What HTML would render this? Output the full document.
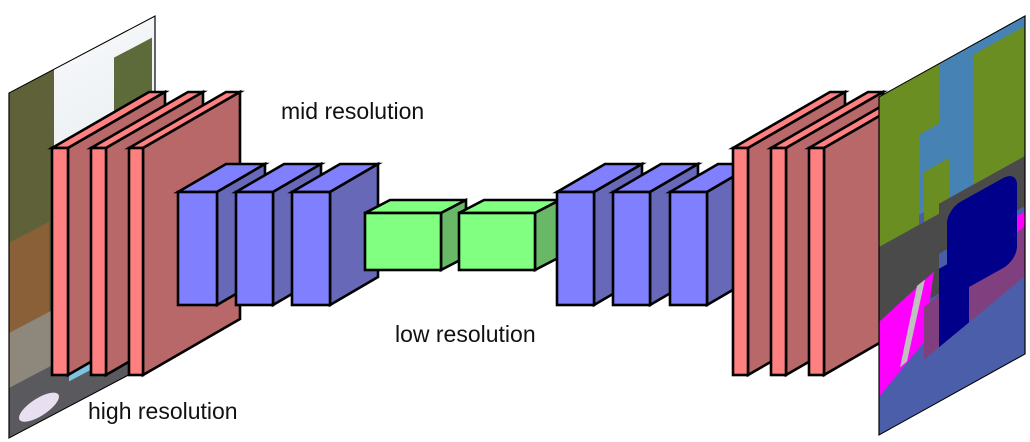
<!DOCTYPE html>
<html><head><meta charset="utf-8"><style>
html,body{margin:0;padding:0;background:#fff;}
svg{display:block;}
text{font-family:"Liberation Sans",Arial,sans-serif;font-size:23px;fill:#111;}
</style></head><body>
<svg width="1030" height="442" viewBox="0 0 1030 442" xmlns="http://www.w3.org/2000/svg">
<defs>
<clipPath id="cl"><rect x="0" y="0" width="146" height="345"/></clipPath>
<clipPath id="cr"><rect x="0" y="0" width="146" height="338"/></clipPath>
<linearGradient id="sky" x1="0" y1="0" x2="0" y2="1"><stop offset="0" stop-color="#f4f6f8"/><stop offset="1" stop-color="#d8e4ea"/></linearGradient>
</defs>
<!-- left photo -->
<g transform="matrix(1,-0.527,0,1,9,93)">
<g clip-path="url(#cl)">
<rect x="0" y="0" width="146" height="345" fill="url(#sky)"/>
<rect x="0" y="0" width="45" height="345" fill="#5f6238"/>
<rect x="0" y="150" width="40" height="90" fill="#8a6038"/>
<rect x="105" y="20" width="38" height="140" fill="#5d6a3a"/>
<rect x="0" y="240" width="146" height="105" fill="#8e887c"/>
<rect x="0" y="295" width="146" height="50" fill="#5a5a5e"/>
<rect x="60" y="300" width="60" height="20" fill="#7cc4e0"/>
<ellipse cx="30" cy="330" rx="20" ry="10" fill="#e8e0f0"/>
</g>
<rect x="0" y="0" width="146" height="345" fill="none" stroke="#000" stroke-width="1.2"/>
</g>
<g stroke="#000" stroke-width="2.6" stroke-linejoin="miter">
<polygon points="52,148 149,92 165,92 68,148" fill="#ff8080"/>
<polygon points="68,148 165,92 165,319 68,375" fill="#b86868"/>
<rect x="52" y="148" width="16" height="227" fill="#ff8080"/>
<polygon points="91,148 188,92 203,92 106,148" fill="#ff8080"/>
<polygon points="106,148 203,92 203,319 106,375" fill="#b86868"/>
<rect x="91" y="148" width="15" height="227" fill="#ff8080"/>
<polygon points="129,148 226,92 240,92 143,148" fill="#ff8080"/>
<polygon points="143,148 240,92 240,319 143,375" fill="#b86868"/>
<rect x="129" y="148" width="14" height="227" fill="#ff8080"/>
<polygon points="178,192 226,164 265,164 217,192" fill="#8080ff"/>
<polygon points="217,192 265,164 265,277 217,305" fill="#6868b8"/>
<rect x="178" y="192" width="39" height="113" fill="#8080ff"/>
<polygon points="236,192 284,164 321,164 273,192" fill="#8080ff"/>
<polygon points="273,192 321,164 321,277 273,305" fill="#6868b8"/>
<rect x="236" y="192" width="37" height="113" fill="#8080ff"/>
<polygon points="292,192 340,164 378,164 330,192" fill="#8080ff"/>
<polygon points="330,192 378,164 378,277 330,305" fill="#6868b8"/>
<rect x="292" y="192" width="38" height="113" fill="#8080ff"/>
<polygon points="365,213 390,200 466,200 441,213" fill="#80ff80"/>
<polygon points="441,213 466,200 466,257 441,270" fill="#68b868"/>
<rect x="365" y="213" width="76" height="57" fill="#80ff80"/>
<polygon points="459,213 484,200 560,200 535,213" fill="#80ff80"/>
<polygon points="535,213 560,200 560,257 535,270" fill="#68b868"/>
<rect x="459" y="213" width="76" height="57" fill="#80ff80"/>
<polygon points="557,192 605,164 642,164 594,192" fill="#8080ff"/>
<polygon points="594,192 642,164 642,277 594,305" fill="#6868b8"/>
<rect x="557" y="192" width="37" height="113" fill="#8080ff"/>
<polygon points="613,192 661,164 698,164 650,192" fill="#8080ff"/>
<polygon points="650,192 698,164 698,277 650,305" fill="#6868b8"/>
<rect x="613" y="192" width="37" height="113" fill="#8080ff"/>
<polygon points="670,192 718,164 755,164 707,192" fill="#8080ff"/>
<polygon points="707,192 755,164 755,277 707,305" fill="#6868b8"/>
<rect x="670" y="192" width="37" height="113" fill="#8080ff"/>
<polygon points="733,148 830,92 845,92 748,148" fill="#ff8080"/>
<polygon points="748,148 845,92 845,319 748,375" fill="#b86868"/>
<rect x="733" y="148" width="15" height="227" fill="#ff8080"/>
<polygon points="771,148 868,92 883,92 786,148" fill="#ff8080"/>
<polygon points="786,148 883,92 883,319 786,375" fill="#b86868"/>
<rect x="771" y="148" width="15" height="227" fill="#ff8080"/>
<polygon points="809,148 906,92 921,92 824,148" fill="#ff8080"/>
<polygon points="824,148 921,92 921,319 824,375" fill="#b86868"/>
<rect x="809" y="148" width="15" height="227" fill="#ff8080"/>
</g>
<!-- right segmentation image -->
<g transform="matrix(1,-0.555,0,1,879,97)">
<g clip-path="url(#cr)">
<rect x="0" y="0" width="146" height="338" fill="#4a5eaa"/>
<rect x="0" y="0" width="146" height="140" fill="#4682b4"/>
<rect x="0" y="0" width="40" height="240" fill="#6b8e23"/>
<rect x="40" y="0" width="20" height="60" fill="#6b8e23"/>
<rect x="95" y="10" width="51" height="170" fill="#6b8e23"/>
<rect x="45" y="100" width="25" height="60" fill="#6b8e23"/>
<rect x="0" y="150" width="60" height="80" fill="#4a4a4a"/>
<rect x="60" y="140" width="86" height="50" fill="#4a4a4a"/>
<polygon points="0,225 55,205 45,270 0,300" fill="#ff00ff"/>
<polygon points="110,200 146,195 146,230 120,230" fill="#ff00ff"/>
<polygon points="45,235 146,210 146,295 45,300" fill="#804080"/>
<rect x="68" y="150" width="70" height="90" rx="14" fill="#00008b"/>
<rect x="60" y="205" width="30" height="80" fill="#00008b"/>
<polygon points="0,300 146,260 146,338 0,338" fill="#4a5eaa"/>
<polygon points="38,210 46,208 28,280 21,282" fill="#c0c0c0"/>
</g>
<rect x="0" y="0" width="146" height="338" fill="none" stroke="#000" stroke-width="1.2"/>
</g>
<text x="281" y="119">mid resolution</text>
<text x="395" y="342">low resolution</text>
<text x="88" y="419">high resolution</text>
</svg>
</body></html>
